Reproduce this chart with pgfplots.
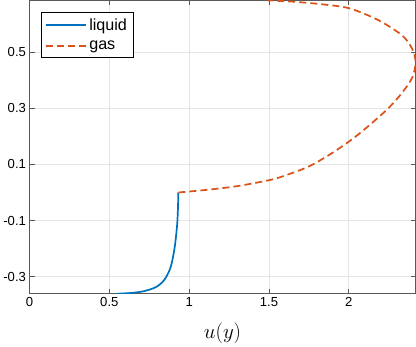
\documentclass[border=0pt]{standalone}
\usepackage{pgfplots}
\pgfplotsset{compat=1.18}
\usepackage{fontspec}
\setmainfont{Liberation Sans}
\definecolor{mblue}{rgb}{0,0.447,0.741}
\definecolor{morange}{rgb}{0.85,0.325,0.098}
\begin{document}
\begin{tikzpicture}
\begin{axis}[
scale only axis,width=383pt,height=291pt,
xmin=0,xmax=2.418,ymin=-0.361,ymax=0.685,
xtick={0,0.5,1,1.5,2},ytick={-0.3,-0.1,0.1,0.3,0.5},
/pgf/number format/assume math mode=true,
tick label style={font=\fontsize{13}{13}\selectfont},
xlabel={$u(y)$},xlabel style={font=\fontsize{20.5}{20.5}\selectfont,yshift=-9pt},
grid=major,major grid style={draw=black!10,line width=0.8pt},
axis line style={black!65,line width=0.8pt},
tick style={black!65,line width=0.8pt},
tick align=inside,major tick length=5pt,
legend style={at={(0.029,0.960)},anchor=north west,font=\fontsize{16}{18}\selectfont,
  draw=black,inner xsep=4pt,inner ysep=4pt,row sep=5pt,
  /tikz/every even column/.append style={column sep=2pt}},
legend cell align=left,
legend image code/.code={\draw[#1,line width=2pt] (0pt,0pt) -- (40pt,0pt);},
]
\addplot[mblue,line width=1.7pt,smooth,tension=0.5] coordinates {
(0.547,-0.361) (0.64,-0.358) (0.715,-0.352) (0.789,-0.338) (0.841,-0.314)
(0.883,-0.268) (0.909,-0.196) (0.925,-0.112) (0.930,-0.05) (0.932,0.0)
};
\addlegendentry{liquid}
\addplot[morange,line width=1.7pt,dash pattern=on 7pt off 4pt,smooth,tension=0.5] coordinates {
(0.932,0.0) (1.136,0.011) (1.304,0.023) (1.493,0.043) (1.577,0.056)
(1.746,0.092) (1.893,0.14) (2.03,0.194) (2.145,0.248) (2.25,0.302)
(2.334,0.356) (2.397,0.41) (2.418,0.464) (2.397,0.512) (2.334,0.56)
(2.187,0.614) (2.008,0.656) (1.85,0.67) (1.661,0.68) (1.493,0.685)
};
\addlegendentry{gas}
\end{axis}
\end{tikzpicture}
\end{document}
